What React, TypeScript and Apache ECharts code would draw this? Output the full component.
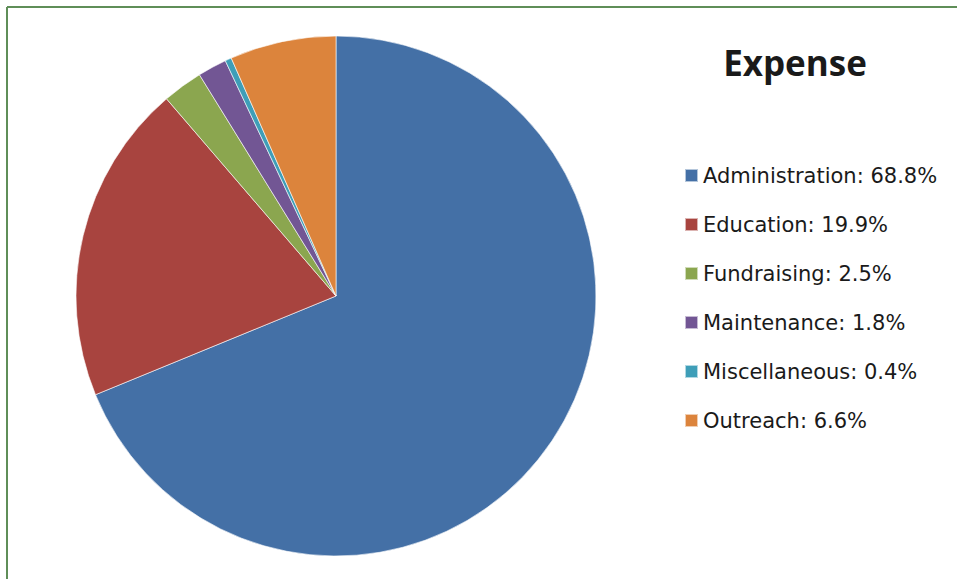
import React, { useEffect, useRef } from "react";
import * as echarts from "echarts";

const categories = ["Administration", "Education", "Fundraising", "Maintenance", "Miscellaneous", "Outreach"];
const values = [68.8, 19.9, 2.5, 1.8, 0.4, 6.6];
const colors = ["#4470A6", "#A8443F", "#8BA64F", "#725694", "#3E9EB8", "#DC843C"];

export default function App() {
  const ref = useRef<HTMLDivElement>(null);
  useEffect(() => {
    if (!ref.current) return;
    const chart = echarts.init(ref.current, null, { renderer: "svg" });
    chart.setOption({
      animation: false,
      backgroundColor: "#ffffff",
      title: {
        text: "Expense",
        left: 790,
        textAlign: "center",
        top: 40,
        textStyle: { fontFamily: "Open Sans", fontWeight: "bold", fontSize: 35, color: "#1a1a1a" },
      },
      legend: {
        orient: "vertical",
        left: 679,
        top: 160,
        icon: "rect",
        itemWidth: 13,
        itemHeight: 13,
        itemGap: 28,
        selectedMode: false,
        data: categories,
        formatter: (name: string) => {
          const i = categories.indexOf(name);
          return `${name}: ${values[i].toFixed(1)}%`;
        },
        textStyle: { fontFamily: "DejaVu Sans", fontSize: 21, color: "#1a1a1a", lineHeight: 20, padding: [0, 0, 0, 0] },
      },
      graphic: [
        { type: "line", shape: { x1: 7, y1: 7, x2: 957, y2: 7 }, style: { stroke: "#5F8E58", lineWidth: 2 } },
        { type: "line", shape: { x1: 7, y1: 7, x2: 7, y2: 579 }, style: { stroke: "#5F8E58", lineWidth: 2 } },
      ],
      series: [
        {
          type: "pie",
          center: [336, 296],
          radius: 260,
          startAngle: 90,
          clockwise: true,
          label: { show: false },
          labelLine: { show: false },
          emphasis: { disabled: true },
          itemStyle: { borderColor: "rgba(255,255,255,0.6)", borderWidth: 1 },
          data: categories.map((c, i) => ({ name: c, value: values[i], itemStyle: { color: colors[i] } })),
        },
      ],
    });
    return () => chart.dispose();
  }, []);
  return <div ref={ref} style={{ position: "fixed", left: 0, top: 0, width: 957, height: 579 }} />;
}
